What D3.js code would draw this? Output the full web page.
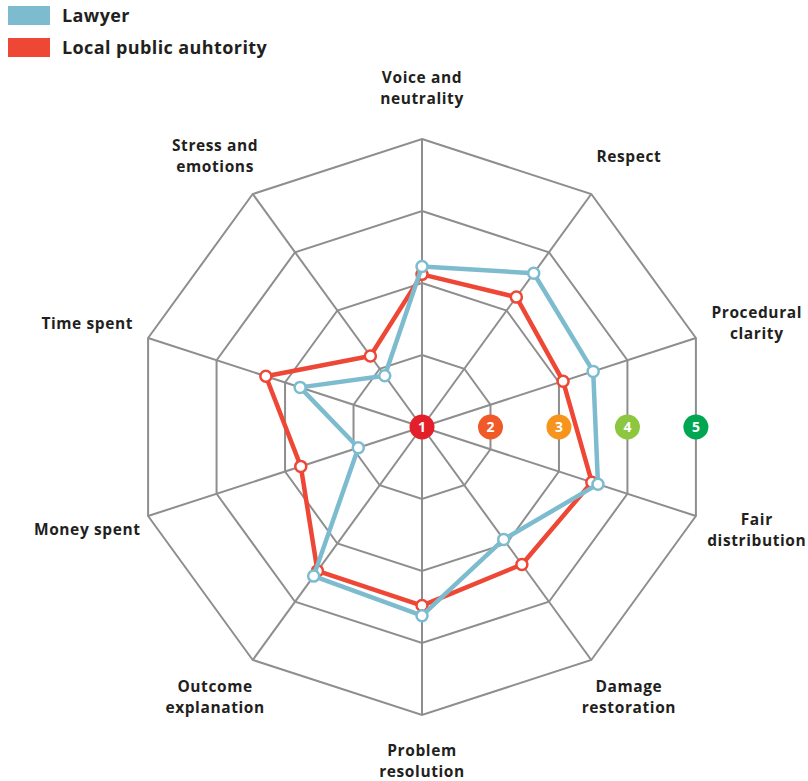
<!DOCTYPE html>
<html>
<head>
<meta charset="utf-8">
<script src="https://cdn.jsdelivr.net/npm/d3@7"></script>
<style>
html,body{margin:0;padding:0;background:#fff;}
svg text{font-family:"Open Sans","Lato",sans-serif;font-weight:700;}
</style>
</head>
<body>
<svg id="chart" width="808" height="781"></svg>
<script>
const categories = [
  ["Voice and","neutrality"],
  ["Respect"],
  ["Procedural","clarity"],
  ["Fair","distribution"],
  ["Damage","restoration"],
  ["Problem","resolution"],
  ["Outcome","explanation"],
  ["Money spent"],
  ["Time spent"],
  ["Stress and","emotions"]
];
const seriesNames = ["Lawyer", "Local public auhtority"];
const lawyer = [3.23, 3.64, 3.50, 3.57, 2.93, 3.62, 3.56, 1.93, 2.78, 1.88];
const localAuthority = [3.12, 3.23, 3.06, 3.48, 3.36, 3.48, 3.47, 2.77, 3.28, 2.22];
const levels = [1, 2, 3, 4, 5];
const levelColors = ["#e3202a", "#f05a28", "#f7941d", "#8dc63f", "#00a651"];
const seriesColors = ["#7dbccf", "#ee4735"];

const svg = d3.select("#chart");
const cx = 422, cy = 427;
const r = d3.scaleLinear().domain([1, 5]).range([0, 288]);
const n = categories.length;
const ang = d3.scaleLinear().domain([0, n]).range([0, 2 * Math.PI]);
const pt = (i, v) => [cx + r(v) * Math.sin(ang(i)), cy - r(v) * Math.cos(ang(i))];

const g = svg.append("g");
levels.slice(1).forEach(lv => {
  g.append("polygon")
    .attr("points", d3.range(n).map(i => pt(i, lv).join(",")).join(" "))
    .attr("fill", "none").attr("stroke", "#8e8e8e").attr("stroke-width", 2);
});
d3.range(n).forEach(i => {
  const [x, y] = pt(i, 5);
  g.append("line").attr("x1", cx).attr("y1", cy).attr("x2", x).attr("y2", y)
    .attr("stroke", "#8e8e8e").attr("stroke-width", 2);
});

const line = d3.lineRadial().angle((d, i) => ang(i)).radius(d => r(d)).curve(d3.curveLinearClosed);
[[localAuthority, 1], [lawyer, 0]].forEach(([vals, k]) => {
  const sg = svg.append("g").attr("transform", `translate(${cx},${cy})`);
  sg.append("path").attr("d", line(vals)).attr("fill", "none")
    .attr("stroke", seriesColors[k]).attr("stroke-width", 4.5).attr("stroke-linejoin", "round");
  sg.selectAll("circle").data(vals).join("circle")
    .attr("cx", (d, i) => r(d) * Math.sin(ang(i)))
    .attr("cy", (d, i) => -r(d) * Math.cos(ang(i)))
    .attr("r", 5.5).attr("fill", "#fff")
    .attr("stroke", seriesColors[k]).attr("stroke-width", 2.5);
});

const apo = Math.cos(Math.PI / n);
levels.forEach((lv, i) => {
  const x = cx + r(lv) * apo;
  svg.append("circle").attr("cx", x).attr("cy", cy).attr("r", 12.5).attr("fill", levelColors[i]);
  svg.append("text").attr("x", x).attr("y", cy + 5).attr("text-anchor", "middle")
    .attr("fill", "#fff").attr("font-size", 14).text(lv);
});

const rx = 352, ry = 334;
categories.forEach((lines, i) => {
  const a = ang(i);
  const x = cx + rx * Math.sin(a), y = cy - ry * Math.cos(a) - (i === 0 ? 5 : 0);
  const t = svg.append("text").attr("text-anchor", "middle").attr("fill", "#231f20")
    .attr("font-size", 15.5).attr("letter-spacing", 0.6);
  const off = (lines.length - 1) * 10.5;
  lines.forEach((s, j) => {
    t.append("tspan").attr("x", x).attr("y", y - off + j * 21 + 5).text(s);
  });
});

seriesNames.forEach((s, k) => {
  svg.append("rect").attr("x", 8).attr("y", 6 + k * 32).attr("width", 42).attr("height", 19).attr("fill", seriesColors[k]);
  svg.append("text").attr("x", 62).attr("y", 22 + k * 32).attr("fill", "#231f20")
    .attr("font-size", 18).attr("letter-spacing", 0.4).text(s);
});
</script>
</body>
</html>
